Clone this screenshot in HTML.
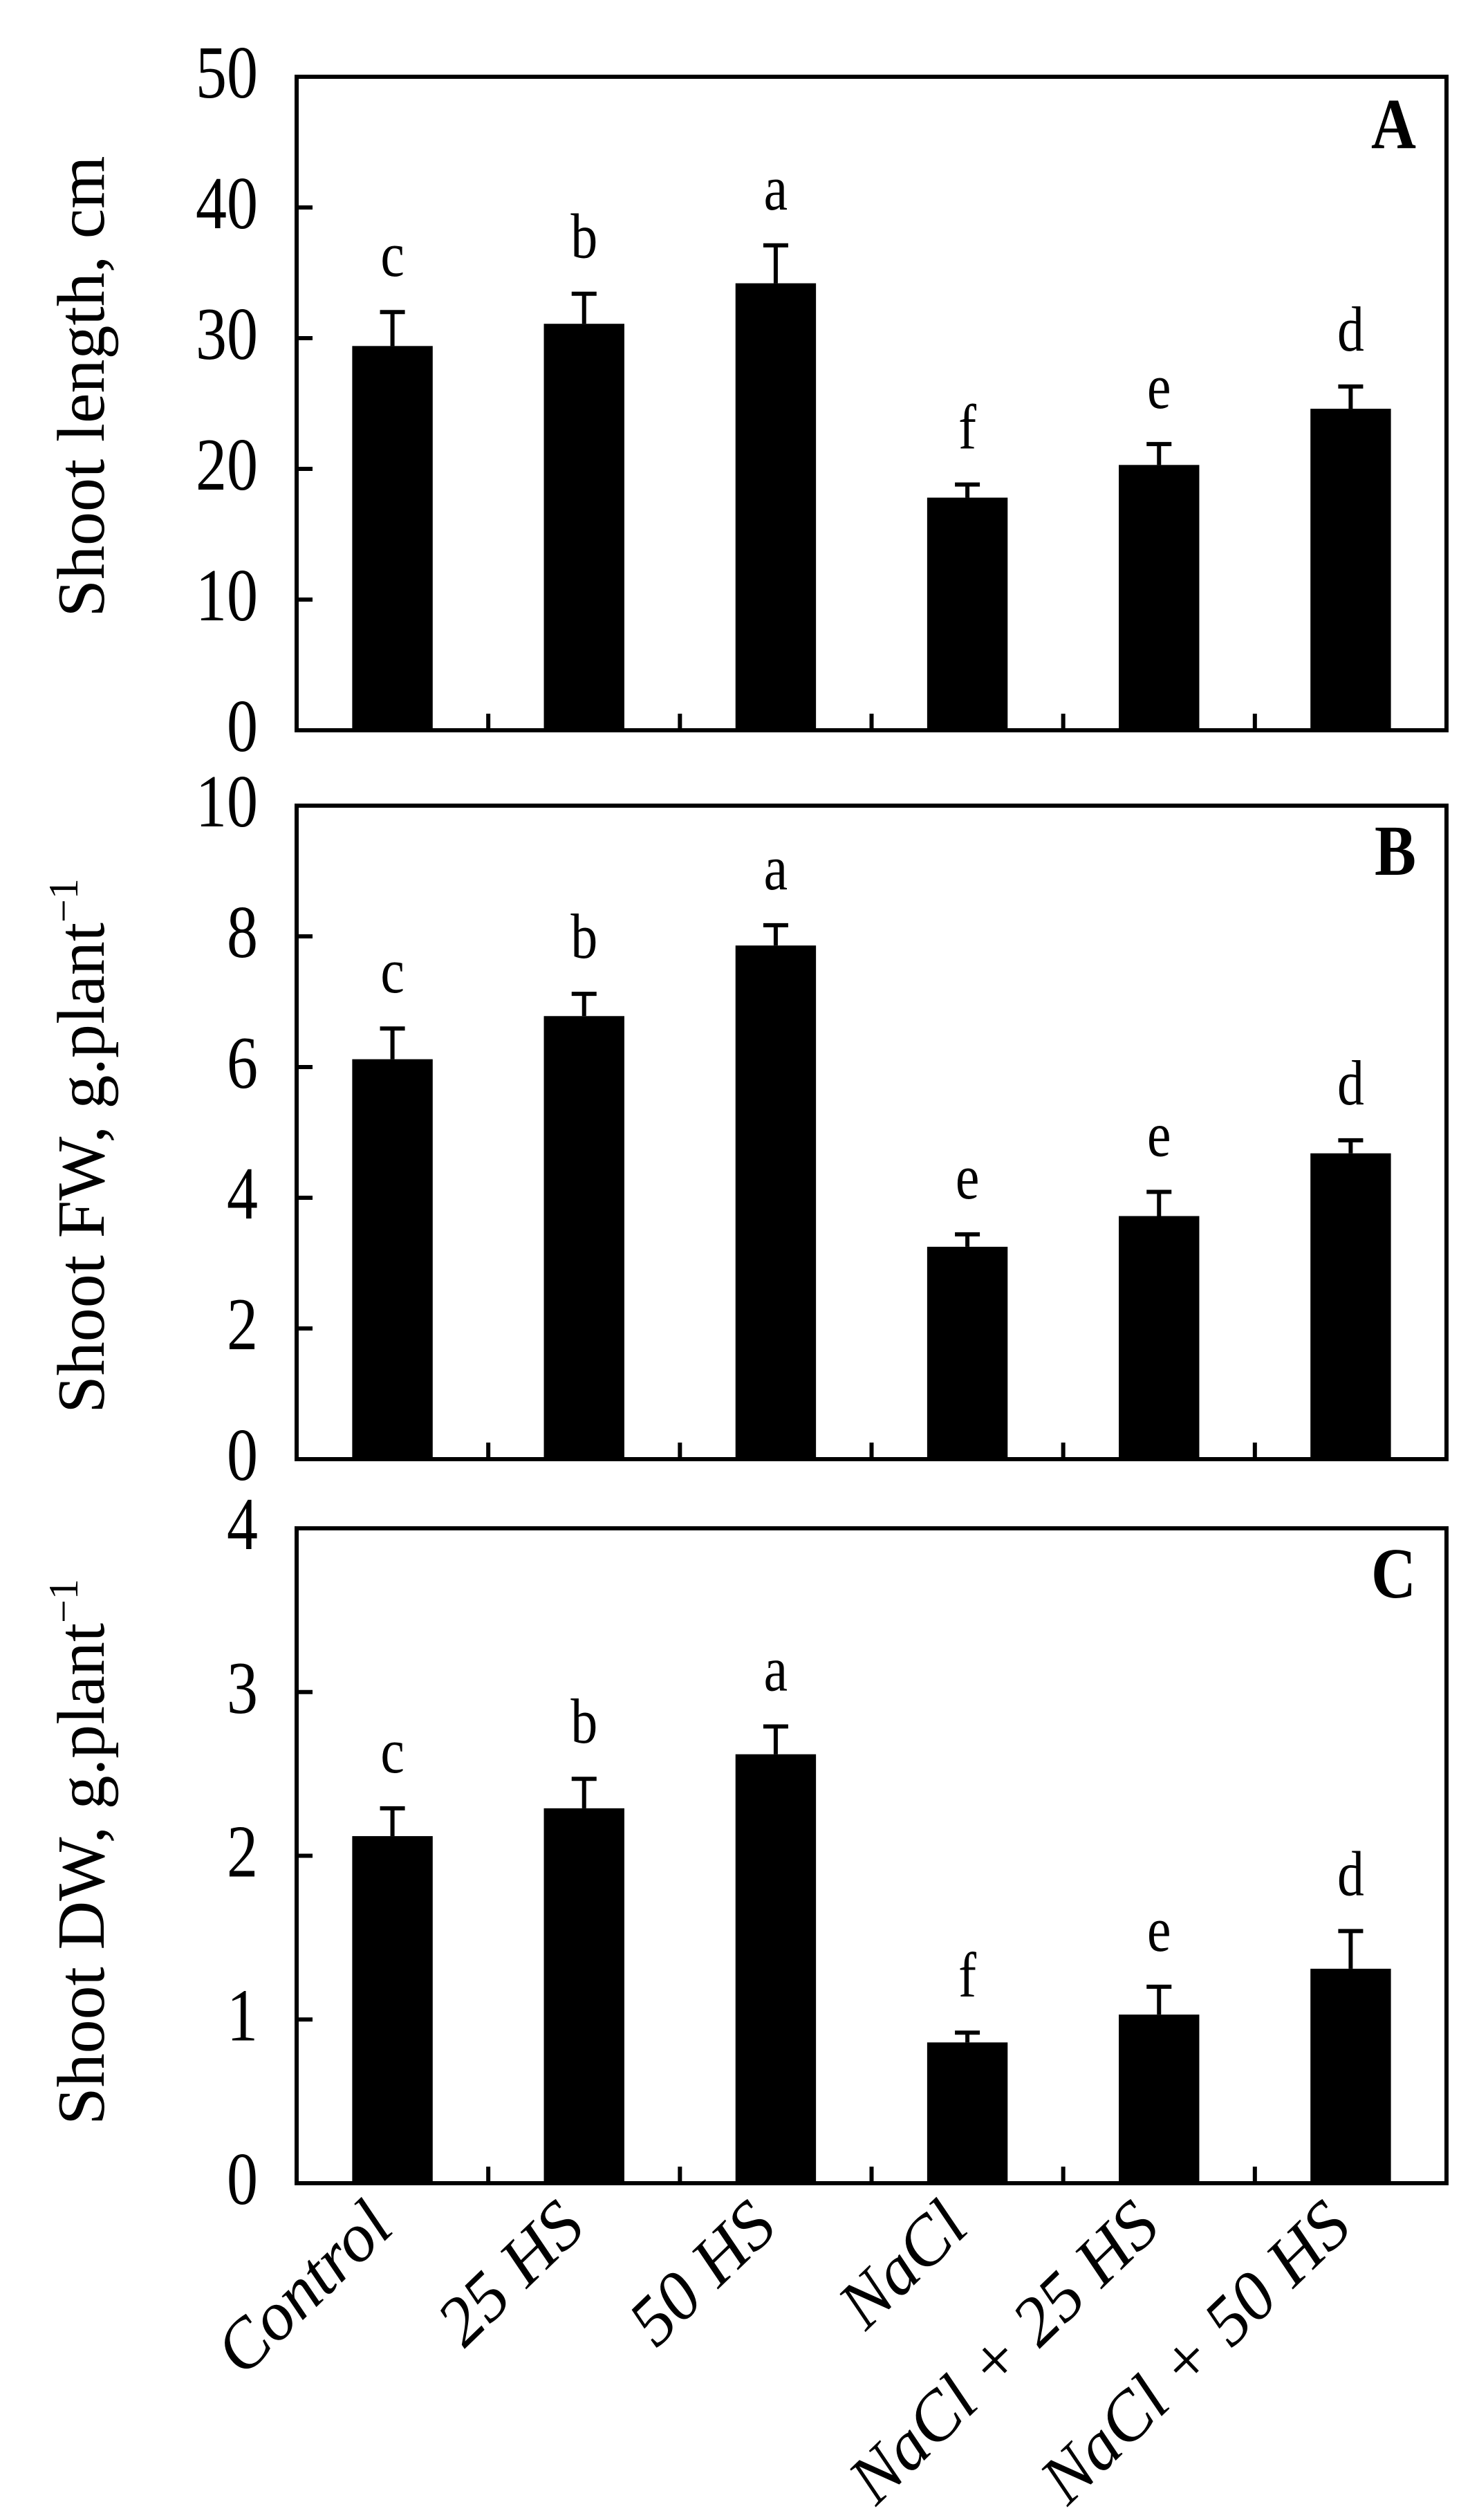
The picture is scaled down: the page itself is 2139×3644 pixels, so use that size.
<!DOCTYPE html>
<html><head><meta charset="utf-8"><style>
html,body{margin:0;padding:0;background:#fff;}
svg{display:block;font-family:"Liberation Serif",serif;}
</style></head><body>
<svg id="fig" width="2139" height="3644" viewBox="0 0 2139 3644" xmlns="http://www.w3.org/2000/svg"></svg>
<script>
const categories = ["Control","25 HS","50 HS","NaCl","NaCl + 25 HS","NaCl + 50 HS"];
const lengthValues = [29.4, 31.1, 34.2, 17.8, 20.3, 24.6];
const lengthErrors = [2.6, 2.3, 2.9, 1.0, 1.6, 1.7];
const lengthLetters = ["c","b","a","f","e","d"];
const lengthTicks = [0,10,20,30,40,50];
const fwValues = [6.12, 6.78, 7.86, 3.25, 3.72, 4.68];
const fwErrors = [0.47, 0.34, 0.31, 0.19, 0.37, 0.20];
const fwLetters = ["c","b","a","e","e","d"];
const fwTicks = [0,2,4,6,8,10];
const dwValues = [2.12, 2.29, 2.62, 0.86, 1.03, 1.31];
const dwErrors = [0.17, 0.18, 0.17, 0.06, 0.17, 0.23];
const dwLetters = ["c","b","a","f","e","d"];
const dwTicks = [0,1,2,3,4];

const NS="http://www.w3.org/2000/svg";
const svg=document.getElementById('fig');
const X0=429, X1=2092;
function mk(tag,attrs,parent){const e=document.createElementNS(NS,tag);for(const k in attrs)e.setAttribute(k,attrs[k]);(parent||svg).appendChild(e);return e;}
const band=(X1-X0)/categories.length;
function xCenter(i){return X0+band*(i+0.5);}

function panel(key,top,bottom,ticks,values,errors,letters,title,sup,titleY,panelLetter,letterY){
  const ymax=ticks[ticks.length-1];
  const y=v=>bottom-(v/ymax)*(bottom-top);
  const g=mk('g',{});
  
  
  values.forEach((v,i)=>{
    const bw=band*0.42, cx=xCenter(i);
    const r=mk('rect',{x:cx-bw/2,y:y(v),width:bw,height:bottom-y(v),fill:'#000'},g);
    
    
    const et=y(v+errors[i]);
    const el=mk('path',{d:`M${cx} ${y(v)} V${et} M${cx-18} ${et} H${cx+18}`,stroke:'#000','stroke-width':6,fill:'none'},g);
    
    
    const t=mk('text',{x:0,y:0,'text-anchor':'middle','font-size':74,transform:`translate(${cx} ${et-52}) scale(1.05 1.25)`},g);
    
    
    t.textContent=letters[i];
  });
  const f=mk('rect',{x:X0,y:top,width:X1-X0,height:bottom-top,fill:'none',stroke:'#000','stroke-width':6},g);
  
  
  ticks.forEach(tv=>{
    const ty=y(tv);
    const tk=mk('line',{x1:X0,x2:X0+23,y1:ty,y2:ty,stroke:'#000','stroke-width':6},g);
    
    
    const tl=mk('text',{x:0,y:0,'text-anchor':'end','font-size':90,transform:`translate(373 ${ty+30}) scale(1 1.2)`},g);
    
    
    tl.textContent=tv;
  });
  for(let i=1;i<categories.length;i++){
    const xx=X0+band*i;
    const xt=mk('line',{x1:xx,x2:xx,y1:bottom,y2:bottom-24,stroke:'#000','stroke-width':6},g);
    
    
  }
  const at=mk('text',{x:150,y:titleY,'text-anchor':'middle','font-size':98,transform:`rotate(-90 150 ${titleY})`},g);
  
  
  at.textContent=title;
  if(sup){
    const ts=mk('tspan',{'font-size':60,dy:-38},at);
    ts.textContent=sup;
  }
  const pl=mk('text',{x:0,y:0,'text-anchor':'end','font-size':90,'font-weight':'bold',transform:`translate(2048 ${letterY}) scale(1 1.15)`},g);
  
  
  pl.textContent=panelLetter;
}
panel('a',111,1056,lengthTicks,lengthValues,lengthErrors,lengthLetters,'Shoot length, cm','',559,'A',214);
panel('b',1165,2110,fwTicks,fwValues,fwErrors,fwLetters,'Shoot FW, g.plant','\u22121',1657,'B',1265);
panel('c',2210,3157,dwTicks,dwValues,dwErrors,dwLetters,'Shoot DW, g.plant','\u22121',2678,'C',2310);

categories.forEach((c,i)=>{
  const cx=xCenter(i)+5, cy=3225;
  const t=mk('text',{x:cx,y:cy,'text-anchor':'end','font-size':100,'font-style':'italic',transform:`rotate(-44 ${cx} ${cy})`});
  
  
  t.textContent=c;
});
</script>
</body></html>
